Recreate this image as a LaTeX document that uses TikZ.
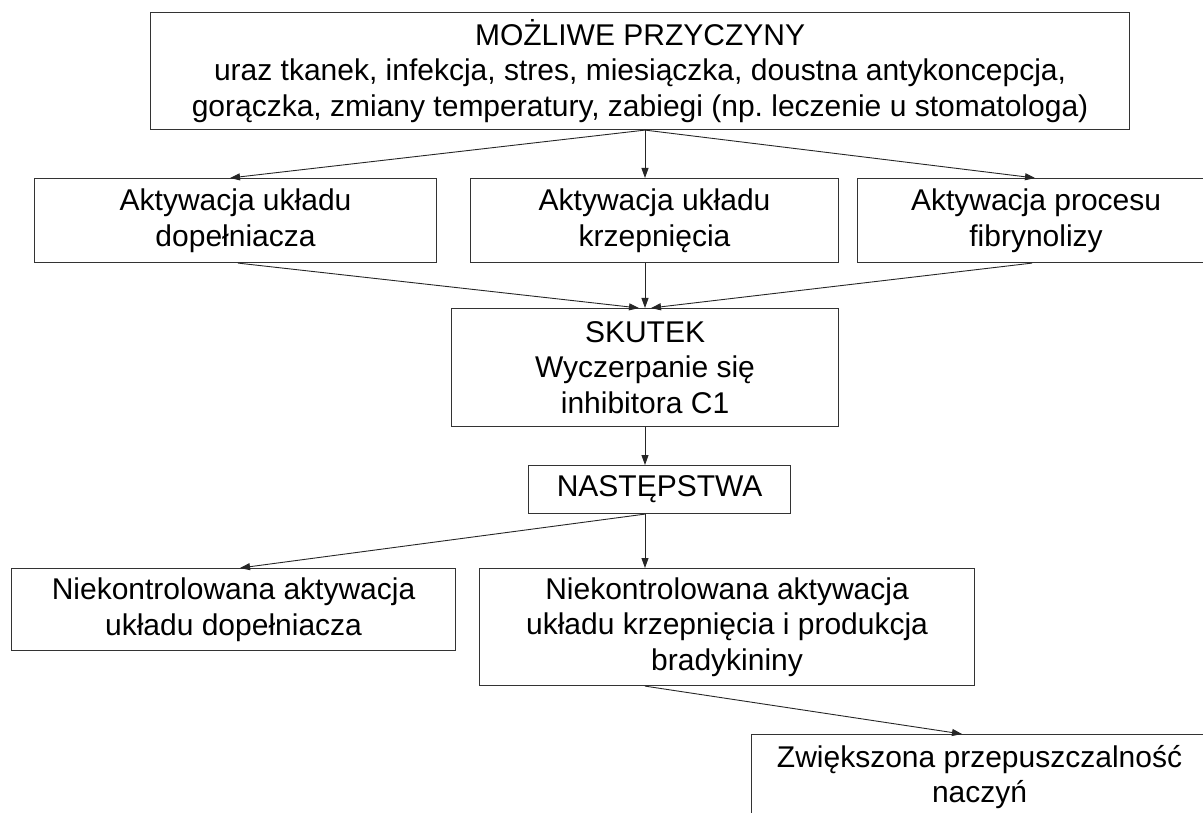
\documentclass[tikz,border=0pt]{standalone}
\usepackage{fontspec}
\setmainfont{Liberation Sans}
\frenchspacing
\usetikzlibrary{arrows.meta,calc}
\begin{document}
\begin{tikzpicture}[x=1pt,y=-1pt,
  box/.style={draw=black!80,line width=1.1pt,inner sep=0pt,align=center,anchor=north west,
    font=\fontsize{30}{35.5}\selectfont},
  arr/.style={draw=black!85,line width=0.9pt,-{Triangle[length=10pt,width=7pt]}},
  ln/.style={draw=black!85,line width=0.9pt}]
\useasboundingbox (0,0) rectangle (1203,813);
\clip (0,0) rectangle (1203,813);
\node[box,minimum width=979pt,minimum height=117pt] (top) at (150,12)
  {MOŻLIWE PRZYCZYNY\\uraz tkanek, infekcja, stres, miesiączka, doustna antykoncepcja,\\gorączka, zmiany temperatury, zabiegi (np. leczenie u stomatologa)};
\node[box,minimum width=402pt,minimum height=84pt] (b1) at (34,178) {Aktywacja układu\\dopełniacza};
\node[box,minimum width=368pt,minimum height=84pt] (b2) at (470,178) {Aktywacja układu\\krzepnięcia};
\node[box,minimum width=357pt,minimum height=84pt] (b3) at (857,178) {Aktywacja procesu\\fibrynolizy};
\node[box,minimum width=387pt,minimum height=118pt] (sk) at (451,308) {SKUTEK\\Wyczerpanie się\\inhibitora C1};
\node[box,minimum width=262pt,minimum height=48pt] (na) at (528,465) {NASTĘPSTWA};
\node[box,minimum width=444pt,minimum height=82pt] (n1) at (11,568) {Niekontrolowana aktywacja\\układu dopełniacza};
\node[box,minimum width=495pt,minimum height=117pt] (n2) at (479,568) {Niekontrolowana aktywacja\\układu krzepnięcia i produkcja\\bradykininy};
\node[box,minimum width=456pt,minimum height=85pt] (z) at (751,734) {Zwiększona przepuszczalność\\naczyń};

\draw[arr] ([xshift=495pt]top.south west) -- ([xshift=196pt]b1.north west);
\draw[arr] ([xshift=495pt]top.south west) -- ([xshift=175pt]b2.north west);
\draw[arr] ([xshift=495pt]top.south west) -- ([xshift=178pt]b3.north west);
\draw[arr] ([xshift=204pt]b1.south west) -- ([xshift=188pt]sk.north west);
\draw[arr] ([xshift=175pt]b2.south west) -- ([xshift=194pt]sk.north west);
\draw[arr] ([xshift=175pt]b3.south west) -- ([xshift=200pt]sk.north west);
\draw[arr] ([xshift=194pt]sk.south west) -- ([xshift=117pt]na.north west);
\draw[arr] ([xshift=117pt]na.south west) -- ([xshift=229pt]n1.north west);
\draw[arr] ([xshift=117pt]na.south west) -- ([xshift=166pt]n2.north west);
\draw[arr] ([xshift=166pt]n2.south west) -- ([xshift=211pt]z.north west);
\end{tikzpicture}
\end{document}
